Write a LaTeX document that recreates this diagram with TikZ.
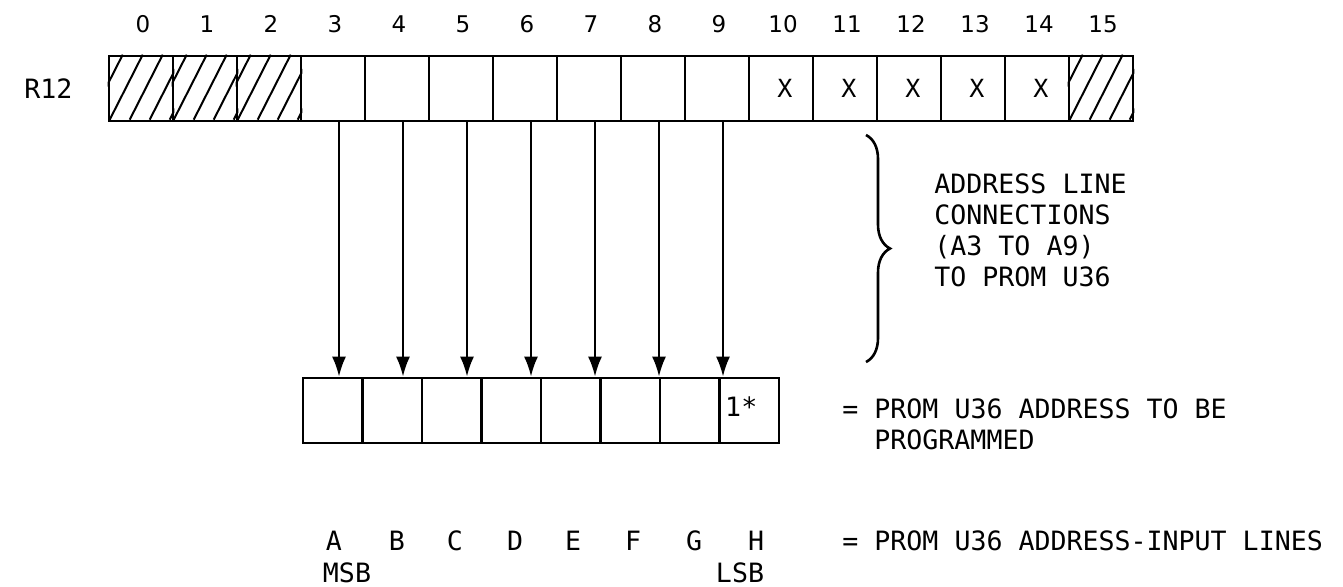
\documentclass[tikz,border=0pt]{standalone}
\usepackage{fontspec}
\newfontfamily\mono{DejaVu Sans Mono}
\newfontfamily\dsans{DejaVu Sans}
\usetikzlibrary{arrows.meta,decorations.pathreplacing,calc}
\begin{document}
\begin{tikzpicture}[x=0.5pt,y=-0.5pt,
  cellT/.style={draw,line width=1.3pt,minimum width=32pt,minimum height=32.5pt,inner sep=0pt},
  cellB/.style={draw,line width=1.3pt,minimum width=29.75pt,minimum height=32.5pt,inner sep=0pt},
  txt/.style={font=\mono\fontsize{13.3}{15}\selectfont,inner sep=0pt,anchor=base west},
  lbl/.style={font=\mono\fontsize{13.3}{15}\selectfont,inner sep=0pt,anchor=base},
  num/.style={font=\dsans\fontsize{11.5}{12}\selectfont,inner sep=0pt,anchor=base},
  xmark/.style={font=\mono\fontsize{12.5}{12}\selectfont,inner sep=0pt,anchor=base},
  arr/.style={line width=1.2pt,-{Latex[length=10pt,width=7pt]}},
  hatch/.style={line width=1pt},
  bracestyle/.style={line width=1.3pt,decorate,decoration={brace,amplitude=12pt}}]
\useasboundingbox (0,0) rectangle (1343,586);
% top register R12
\foreach \i in {0,...,15} {
  \node[cellT] (t\i) at (141+64*\i,88.5) {};
  \node[num] (n\i) at (143+64*\i,32) {\i};
}
\node[txt] (r12) at (24,98) {R12};
% hatching of bits 0,1,2,15
\foreach \i in {0,1,2,15} {
  \begin{scope}
    \clip (t\i.south west) rectangle (t\i.north east);
    \foreach \k in {-1,...,4}
      \draw[hatch] ($(t\i.north west)+(15+20*\k,0)$) -- ++(-33,65);
  \end{scope}
}
\foreach \i in {10,...,14}
  \node[xmark] (x\i) at ($(t\i.center)+(4,9)$) {X};
% bottom register
\foreach \j in {0,...,7}
  \node[cellB] (b\j) at (332.75+59.5*\j,410.5) {};
\node[lbl] (one) at ($(b7.center)+(-8,0)$) [yshift=-3pt] {1*};
% arrows
\foreach \i in {3,...,9}
  \draw[arr] ($(t\i.south)+(6,0)$) coordinate (a\i) -- (a\i |- b0.north);
% brace
\draw[bracestyle] (866,135) coordinate (bt) -- (866,362) coordinate (bb);
\node[txt] (l1) at (934,193) {ADDRESS LINE};
\node[txt] (l2) at (934,224) {CONNECTIONS};
\node[txt] (l3) at (934,255) {(A3 TO A9)};
\node[txt] (l4) at (934,286) {TO PROM U36};
% legend texts
\node[txt] (p1) at (842,418) {= PROM U36 ADDRESS TO BE};
\node[txt] (p2) at (874,449) {PROGRAMMED};
\node[txt] (p3) at (842,550) {= PROM U36 ADDRESS-INPUT LINES};
% address input line letters
\node[lbl] (lA) at (334,550) {A};
\node[lbl] (lB) at (397,550) {B};
\node[lbl] (lC) at (455,550) {C};
\node[lbl] (lD) at (515,550) {D};
\node[lbl] (lE) at (573,550) {E};
\node[lbl] (lF) at (633,550) {F};
\node[lbl] (lG) at (694,550) {G};
\node[lbl] (lH) at (756,550) {H};
\node[lbl] (msb) at (347,582) {MSB};
\node[lbl] (lsb) at (740,582) {LSB};
\end{tikzpicture}
\end{document}
